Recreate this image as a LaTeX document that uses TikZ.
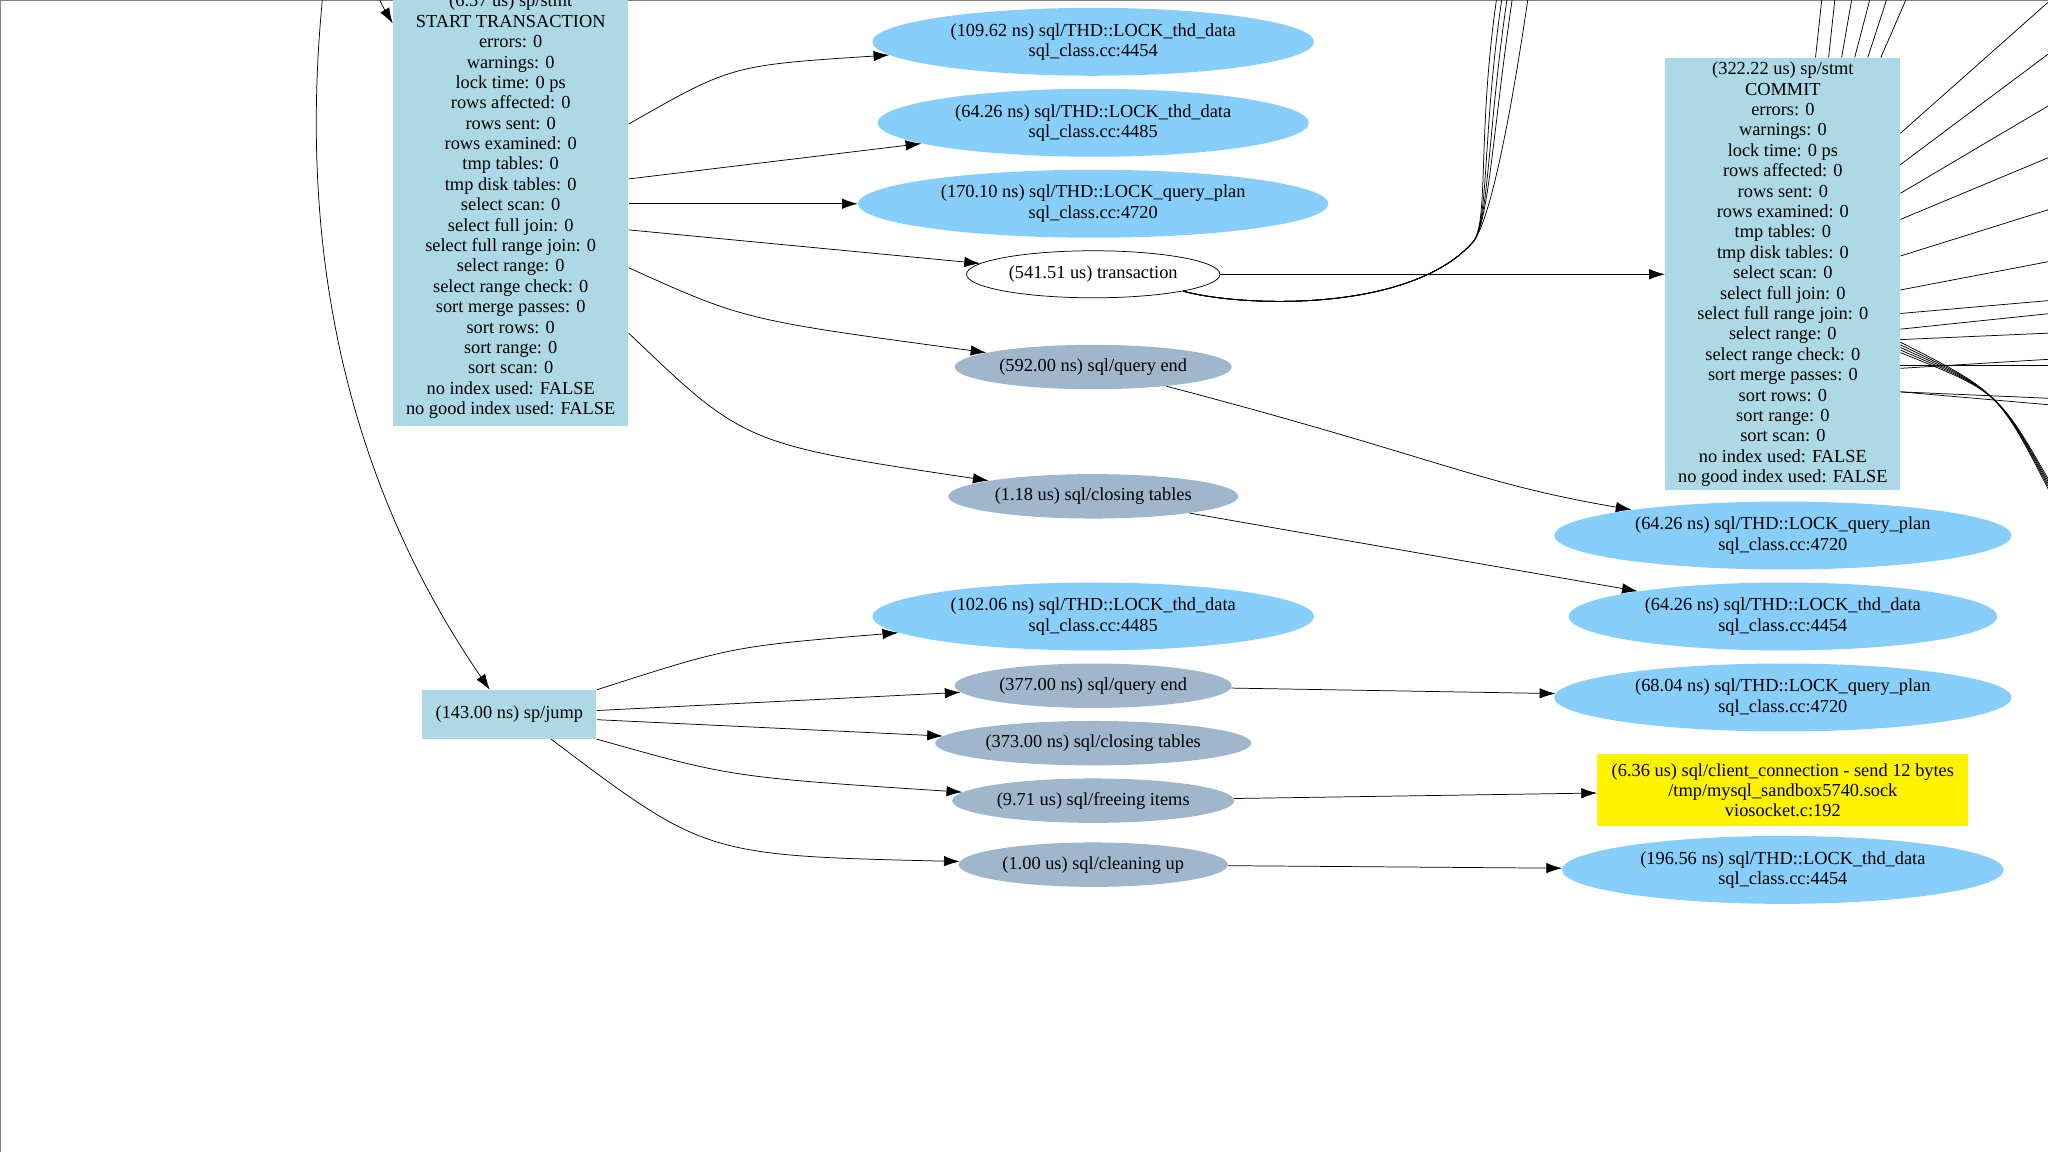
\documentclass[tikz,border=0pt]{standalone}
\usepackage{fontspec}
\setmainfont{Liberation Serif}
\usetikzlibrary{shapes.geometric,arrows.meta}
\definecolor{c1}{RGB}{173,216,230}
\definecolor{c2}{RGB}{135,206,250}
\definecolor{c3}{RGB}{159,182,205}
\tikzset{
  txt/.style={font=\fontsize{10}{11.1}\selectfont,align=center},
  box/.style={txt,fill=c1,inner sep=0pt},
  lk/.style={txt,ellipse,fill=c2,inner sep=0pt,minimum height=1.3cm},
  st/.style={txt,ellipse,fill=c3,inner sep=0pt,minimum height=.85cm},
  ed/.style={arrows={-Latex[length=3mm,width=2mm]}}
}
\begin{document}
\begin{tikzpicture}[x=.025cm,y=-.025cm]
      \useasboundingbox (0,0) rectangle (1568,882);
      \draw[gray] (0,0) rectangle (1568,882);
      \begin{scope}
      \clip (0,0) rectangle (1568,882);

      \node[box,minimum width=4.5cm,minimum height=8.4cm] (start) at (391,158) {(6.57 us) sp/stmt\\START TRANSACTION\\errors: 0\\warnings: 0\\lock time: 0 ps\\rows affected: 0\\rows sent: 0\\rows examined: 0\\tmp tables: 0\\tmp disk tables: 0\\select scan: 0\\select full join: 0\\select full range join: 0\\select range: 0\\select range check: 0\\sort merge passes: 0\\sort rows: 0\\sort range: 0\\sort scan: 0\\no index used: FALSE\\no good index used: FALSE};
      \node[box,minimum width=4.5cm,minimum height=8.27cm] (commit) at (1365,210) {(322.22 us) sp/stmt\\COMMIT\\errors: 0\\warnings: 0\\lock time: 0 ps\\rows affected: 0\\rows sent: 0\\rows examined: 0\\tmp tables: 0\\tmp disk tables: 0\\select scan: 0\\select full join: 0\\select full range join: 0\\select range: 0\\select range check: 0\\sort merge passes: 0\\sort rows: 0\\sort range: 0\\sort scan: 0\\no index used: FALSE\\no good index used: FALSE};
      \node[box,minimum width=3.33cm,minimum height=.93cm] (jump) at (390,547) {(143.00 ns) sp/jump};

      \node[lk,minimum width=8.45cm] (l1) at (837,32) {(109.62 ns) sql/THD::LOCK\_thd\_data\\sql\_class.cc:4454};
      \node[lk,minimum width=8.25cm] (l2) at (837,94) {(64.26 ns) sql/THD::LOCK\_thd\_data\\sql\_class.cc:4485};
      \node[lk,minimum width=9cm] (l3) at (837,156) {(170.10 ns) sql/THD::LOCK\_query\_plan\\sql\_class.cc:4720};
      \node[txt,ellipse,draw,inner sep=0pt,minimum width=4.85cm,minimum height=.9cm] (trans) at (837,210) {(541.51 us) transaction};
      \node[st,minimum width=5.3cm] (qend) at (837,281) {(592.00 ns) sql/query end};
      \node[st,minimum width=5.55cm] (close) at (837,380) {(1.18 us) sql/closing tables};
      \node[lk,minimum width=8.45cm] (l4) at (837,472) {(102.06 ns) sql/THD::LOCK\_thd\_data\\sql\_class.cc:4485};
      \node[st,minimum width=5.3cm] (qend2) at (837,525) {(377.00 ns) sql/query end};
      \node[st,minimum width=6.05cm] (close2) at (837,569) {(373.00 ns) sql/closing tables};
      \node[st,minimum width=5.4cm] (free) at (837,613) {(9.71 us) sql/freeing items};
      \node[st,minimum width=5.15cm] (clean) at (837,662) {(1.00 us) sql/cleaning up};

      \node[lk,minimum width=8.75cm] (r1) at (1365,410) {(64.26 ns) sql/THD::LOCK\_query\_plan\\sql\_class.cc:4720};
      \node[lk,minimum width=8.2cm] (r2) at (1365,472) {(64.26 ns) sql/THD::LOCK\_thd\_data\\sql\_class.cc:4454};
      \node[lk,minimum width=8.75cm] (r3) at (1365,534) {(68.04 ns) sql/THD::LOCK\_query\_plan\\sql\_class.cc:4720};
      \node[txt,fill=yellow,inner sep=0pt,minimum width=7.1cm,minimum height=1.38cm] (sock) at (1365,605) {(6.36 us) sql/client\_connection - send 12 bytes\\/tmp/mysql\_sandbox5740.sock\\viosocket.c:192};
      \node[lk,minimum width=8.45cm] (r4) at (1365,666) {(196.56 ns) sql/THD::LOCK\_thd\_data\\sql\_class.cc:4454};

      % incoming from above
      \coordinate (in1) at (247,-2);
      \coordinate (in2) at (290,-2);
      \draw[ed] (in1) .. controls (225,220) and (280,390) .. ([xshift=-15*.025cm]jump.north);
      \draw[ed] (in2) .. controls (293,5) .. (start.north west|-0,18);

      \draw[ed] (start.east|-0,95) .. controls (560,50) .. (l1);
      \draw[ed] (start.east|-0,137) -- (l2);
      \draw[ed] (start.east|-0,156) -- (l3);
      \draw[ed] (start.east|-0,176) -- (trans);
      \draw[ed] (start.east|-0,205) .. controls (570,245) .. (qend);
      \draw[ed] (start.east|-0,255) .. controls (570,340) .. (close);

      \draw[ed] (jump.north east) .. controls (560,495) .. (l4);
      \draw[ed] (jump.east|-0,544) -- (qend2);
      \draw[ed] (jump.east|-0,551) -- (close2);
      \draw[ed] (jump.south east) .. controls (560,595) .. (free);
      \draw[ed] (jump.south east) ++(-35,0) .. controls (540,655) .. (clean);

      \draw[ed] (trans) -- (commit.west|-trans);
      \draw[ed] (qend) .. controls (1100,350) and (1130,370) .. (r1);
      \draw[ed] (close) -- (r2);
      \draw[ed] (qend2) -- (r3);
      \draw[ed] (free) -- (sock);
      \draw[ed] (clean) -- (r4);

      % loose ends
      \foreach \a in {1146,1150,1154,1158,1170}
        \draw (\a,-2) .. controls (\a-15,100) and (1140,170) .. (1128,185) .. controls (1080,240) and (950,235) .. (trans.south east);
      \foreach \a/\b in {1395/1390,1405/1400,1418/1410,1432/1420,1445/1430,1460/1440}
        \draw (\a,-2) -- (\b,44);
      \foreach \a/\b in {0/102,40/126,80/148,120/168,160/196,200/222,240/252,275/282,310/300}
        \draw (1455,\b) -- (1570,\a);
      \foreach \a in {240,260,280,300}
        \draw (1455,\a) -- (1570,\a-70+\a/4);
      \foreach \a in {0,2,4,6,8}
        \draw (1455,262+\a) .. controls (1530,300) .. (1570,378-\a);
      \end{scope}
    \end{tikzpicture}
\end{document}
